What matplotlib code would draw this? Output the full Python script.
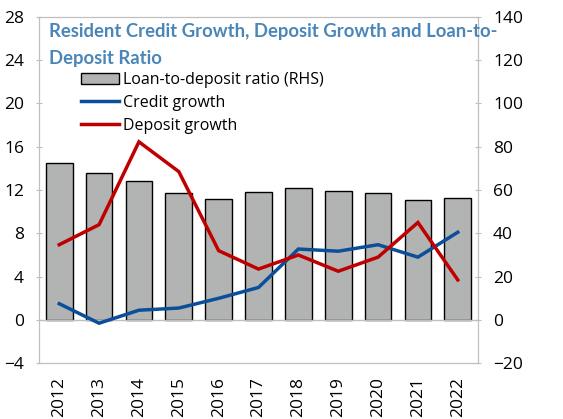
import matplotlib
matplotlib.use("Agg")
import matplotlib.pyplot as plt
from matplotlib.patches import Patch
from matplotlib.lines import Line2D

years = ["2012", "2013", "2014", "2015", "2016", "2017",
         "2018", "2019", "2020", "2021", "2022"]
ltd_ratio = [72.3, 67.9, 64.1, 58.5, 56.0, 59.1, 61.1, 59.7, 58.8, 55.4, 56.2]
credit_growth = [1.5, -0.3, 0.9, 1.1, 2.0, 3.0, 6.55, 6.35, 6.95, 5.8, 8.1]
deposit_growth = [6.95, 8.8, 16.45, 13.7, 6.4, 4.7, 6.0, 4.5, 5.8, 9.0, 3.7]

left_ticks = [-4, 0, 4, 8, 12, 16, 20, 24, 28]
right_ticks = [-20, 0, 20, 40, 60, 80, 100, 120, 140]

title_lines = ["Resident Credit Growth, Deposit Growth and Loan-to-", "Deposit Ratio"]

plt.rcParams["font.family"] = ["Open Sans", "DejaVu Sans"]

fig = plt.figure(figsize=(5.63, 4.19), dpi=100)
ax = fig.add_axes([0.0698, 0.133, 0.7787, 0.827])
ax2 = ax.twinx()

x = list(range(len(years)))

# bars on the right axis, lines on the left one
ax2.bar(x, ltd_ratio, width=0.67, color="#b2b3b3", edgecolor="black", linewidth=1.0, zorder=1)
ax2.set_zorder(0)
ax.set_zorder(1)
ax.patch.set_visible(False)

ax.plot(x, credit_growth, color="#0b4f9a", linewidth=2.5, solid_joinstyle="miter")
ax.plot(x, deposit_growth, color="#c00000", linewidth=2.5, solid_joinstyle="miter")

ax.set_xlim(-0.5, 10.5)
ax.set_ylim(-4, 28)
ax2.set_ylim(-20, 140)
ax.set_yticks(left_ticks)
ax2.set_yticks(right_ticks)
ax.set_xticks(x)
ax.set_xticklabels(years, rotation=90)

ax.axhline(0, color="#bfbfbf", linewidth=1.0, zorder=0)

for a in (ax, ax2):
    for s in a.spines.values():
        s.set_color("#bfbfbf")
    a.tick_params(labelsize=12.5, colors="black", length=4, color="#bfbfbf",
                  direction="inout", pad=9)
ax.tick_params(axis="x", length=0, pad=10)

# title sits inside the plot, two lines
for i, line in enumerate(title_lines):
    ax.text(0.023, 0.958 - i * 0.078, line, transform=ax.transAxes,
            ha="left", va="center", fontsize=13.3, fontweight="bold",
            color="#4a86b8", family=["Lato", "DejaVu Sans"])

handles = [
    Patch(facecolor="#b2b3b3", edgecolor="black", linewidth=1.0),
    Line2D([], [], color="#0b4f9a", linewidth=2.5),
    Line2D([], [], color="#c00000", linewidth=2.5),
]
labels = ["Loan-to-deposit ratio (RHS)", "Credit growth", "Deposit growth"]
ax.legend(handles, labels, loc="upper left", bbox_to_anchor=(0.08, 0.858),
          frameon=False, fontsize=11.5, handlelength=2.4, handletextpad=0.25,
          labelspacing=0.42, borderaxespad=0)

fig.savefig("out.png", dpi=100)
